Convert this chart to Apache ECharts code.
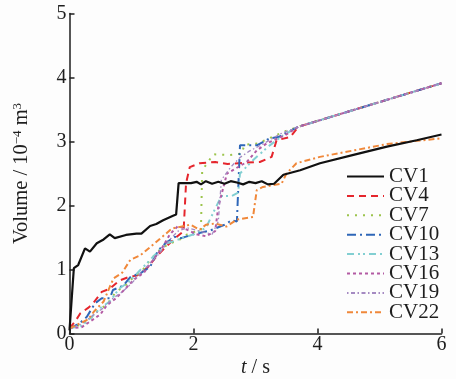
<!DOCTYPE html>
<html lang="en">
<head>
  <meta charset="UTF-8">
  <title>Volume vs t</title>
  <script src="https://cdn.jsdelivr.net/npm/echarts@6/dist/echarts.min.js"></script>
  <style>
    html, body { margin: 0; padding: 0; background: #fdfdfd; }
    #container { width: 456px; height: 379px; }
  </style>
</head>
<body>
  <div id="container"></div>
  <script>
    // axis ticks
    const xTicks = [0, 2, 4, 6];
    const yTicks = [0, 1, 2, 3, 4, 5];

    // [t (s), volume (1e-4 m3)]
    const cv1 = [[0, 0.05], [0.07, 1.02], [0.14, 1.07], [0.25, 1.33], [0.33, 1.28], [0.44, 1.41], [0.55, 1.47],
      [0.65, 1.55], [0.73, 1.49], [0.91, 1.54], [1.08, 1.56], [1.16, 1.56], [1.3, 1.68], [1.4, 1.71], [1.51, 1.77],
      [1.67, 1.84], [1.72, 1.86], [1.76, 2.35], [1.96, 2.35], [2.05, 2.37], [2.12, 2.33], [2.2, 2.38], [2.3, 2.34],
      [2.4, 2.37], [2.5, 2.34], [2.6, 2.38], [2.7, 2.36], [2.8, 2.33], [2.9, 2.37], [3.0, 2.35], [3.1, 2.38],
      [3.2, 2.33], [3.3, 2.34], [3.45, 2.48], [3.72, 2.55], [4.04, 2.66], [4.58, 2.79], [5.12, 2.92], [5.6, 3.02],
      [6, 3.11]];
    const cv4 = [[0, 0.08], [0.1, 0.2], [0.17, 0.31], [0.3, 0.4], [0.38, 0.47], [0.52, 0.65], [0.65, 0.7],
      [0.81, 0.83], [0.95, 0.88], [1.1, 0.91], [1.27, 1.04], [1.4, 1.2], [1.55, 1.35], [1.73, 1.51], [1.84, 1.6],
      [1.88, 2.35], [1.94, 2.6], [2.1, 2.66], [2.35, 2.68], [2.55, 2.65], [2.86, 2.67], [3.07, 2.68], [3.26, 2.76],
      [3.34, 3.02], [3.56, 3.07], [3.69, 3.23], [6, 3.91]];
    const cv7 = [[0, 0.08], [0.15, 0.13], [0.3, 0.2], [0.45, 0.35], [0.6, 0.45], [0.75, 0.65], [0.9, 0.75],
      [1.0, 0.85], [1.15, 0.95], [1.3, 1.15], [1.45, 1.3], [1.6, 1.4], [1.75, 1.45], [1.9, 1.55], [2.05, 1.6],
      [2.12, 1.62], [2.14, 2.55], [2.32, 2.8], [2.59, 2.79], [2.78, 2.81], [2.82, 2.95], [3.04, 2.97], [3.45, 3.15],
      [3.69, 3.23], [6, 3.91]];
    const cv10 = [[0, 0.08], [0.15, 0.15], [0.28, 0.26], [0.41, 0.47], [0.52, 0.55], [0.65, 0.55], [0.7, 0.68],
      [0.87, 0.75], [0.98, 0.88], [1.14, 0.94], [1.3, 1.04], [1.43, 1.3], [1.57, 1.43], [1.7, 1.51], [1.8, 1.49],
      [2.0, 1.55], [2.27, 1.61], [2.5, 1.7], [2.62, 1.77], [2.7, 1.75], [2.75, 2.94], [3.02, 2.94], [3.23, 3.05],
      [3.37, 3.07], [3.53, 3.15], [3.69, 3.23], [6, 3.91]];
    const cv13 = [[0, 0.08], [0.2, 0.12], [0.35, 0.25], [0.5, 0.4], [0.65, 0.5], [0.8, 0.7], [0.95, 0.8],
      [1.1, 0.95], [1.25, 1.1], [1.4, 1.25], [1.55, 1.4], [1.7, 1.45], [1.85, 1.5], [2.0, 1.55], [2.2, 1.65],
      [2.35, 1.95], [2.45, 2.15], [2.62, 2.15], [2.72, 2.2], [2.75, 2.5], [2.95, 2.7], [3.23, 2.94], [3.45, 3.1],
      [3.69, 3.23], [6, 3.91]];
    const cv16 = [[0, 0.08], [0.2, 0.1], [0.35, 0.2], [0.5, 0.3], [0.6, 0.44], [0.75, 0.55], [0.9, 0.7],
      [1.05, 0.85], [1.2, 0.95], [1.35, 1.15], [1.5, 1.35], [1.62, 1.55], [1.75, 1.68], [1.9, 1.62], [2.05, 1.55],
      [2.2, 1.52], [2.35, 1.6], [2.4, 1.98], [2.54, 2.5], [2.86, 2.68], [3.02, 2.86], [3.18, 2.97], [3.48, 3.1],
      [3.69, 3.23], [6, 3.91]];
    const cv19 = [[0, 0.08], [0.2, 0.15], [0.4, 0.3], [0.55, 0.4], [0.7, 0.55], [0.85, 0.65], [1.0, 0.78],
      [1.15, 0.95], [1.3, 1.1], [1.45, 1.25], [1.6, 1.45], [1.75, 1.6], [1.9, 1.65], [2.1, 1.6], [2.3, 1.55],
      [2.4, 1.75], [2.45, 2.4], [2.6, 2.6], [2.75, 2.75], [2.9, 2.85], [3.1, 2.95], [3.4, 3.12], [3.69, 3.23],
      [6, 3.91]];
    const cv22 = [[0, 0.08], [0.15, 0.15], [0.3, 0.22], [0.4, 0.35], [0.55, 0.5], [0.65, 0.73], [0.71, 0.86],
      [0.85, 0.95], [0.98, 1.15], [1.14, 1.22], [1.3, 1.35], [1.46, 1.48], [1.65, 1.64], [1.8, 1.67], [1.95, 1.7],
      [2.1, 1.62], [2.2, 1.7], [2.35, 1.72], [2.53, 1.67], [2.7, 1.78], [2.96, 1.82], [3.02, 2.24], [3.12, 2.29],
      [3.42, 2.34], [3.5, 2.5], [3.66, 2.66], [4.04, 2.76], [4.58, 2.86], [5.12, 2.96], [5.6, 3.01], [6, 3.05]];

    const FONT = '"Liberation Serif", "DejaVu Serif", serif';
    const INK = '#1e1e1e';

    // name, data, colour, dash pattern, width
    const lines = [
      ['CV1', cv1, '#111111', 'solid', 2.2],
      ['CV4', cv4, '#e5262d', [7, 5], 2],
      ['CV7', cv7, '#9cc44c', [2, 6], 2],
      ['CV10', cv10, '#2f67b8', [9, 4, 2, 4], 2],
      ['CV13', cv13, '#82cfd2', [7, 4, 2, 3, 2, 4], 2],
      ['CV16', cv16, '#b35aa3', [3, 3], 2],
      ['CV19', cv19, '#a58ac2', [1.5, 2.5, 4, 2.5], 1.3],
      ['CV22', cv22, '#f0883a', [6, 3, 2, 3], 2],
    ];

    const chart = echarts.init(document.getElementById('container'), null, { renderer: 'canvas' });

    chart.setOption({
      animation: false,
      backgroundColor: '#fdfdfd',
      // fixed plot box; v6 would otherwise shrink it to fit the labels
      grid: { left: 69.5, right: 14.5, top: 13.5, bottom: 45.5, outerBoundsMode: 'none' },
      legend: {
        orient: 'vertical',
        left: 346,
        top: 166,
        padding: 0,
        itemGap: -1.6,
        itemWidth: 37,
        itemHeight: 14,
        itemStyle: { opacity: 0 }, // hide the marker, keep only the dashed line
        textStyle: { fontFamily: FONT, fontSize: 21, color: INK, lineHeight: 19 },
        data: lines.map(l => l[0]),
      },
      xAxis: {
        type: 'value',
        min: xTicks[0],
        max: xTicks[xTicks.length - 1],
        interval: 2,
        name: '{i|t} / s',
        nameLocation: 'middle',
        nameGap: 24,
        nameMoveOverlap: false,
        nameTextStyle: {
          fontFamily: FONT, fontSize: 20, color: INK,
          rich: { i: { fontFamily: FONT, fontSize: 20, fontStyle: 'italic', color: INK } },
        },
        axisLine: { lineStyle: { color: INK, width: 1.5 } },
        axisTick: { inside: true, length: 5, lineStyle: { color: INK, width: 1.5 } },
        axisLabel: { fontFamily: FONT, fontSize: 20, color: INK, margin: 1 },
        splitLine: { show: false },
      },
      yAxis: {
        type: 'value',
        min: yTicks[0],
        max: yTicks[yTicks.length - 1],
        interval: 1,
        name: 'Volume / 10{s|−4} m{s|3}',
        nameLocation: 'middle',
        nameGap: 37,
        nameMoveOverlap: false,
        nameTextStyle: {
          fontFamily: FONT, fontSize: 20.5, color: INK,
          rich: { s: { fontFamily: FONT, fontSize: 13, color: INK, verticalAlign: 'top', padding: [0, 0, 8, 0] } },
        },
        axisLine: { show: true, lineStyle: { color: INK, width: 1.5 } },
        axisTick: { show: true, inside: true, length: 5, lineStyle: { color: INK, width: 1.5 } },
        axisLabel: { fontFamily: FONT, fontSize: 20, color: INK, margin: 3 },
        splitLine: { show: false },
      },
      series: lines.map(([name, data, color, type, width]) => ({
        name,
        type: 'line',
        data,
        symbol: 'none',
        color,
        lineStyle: { color, type, width },
        z: name === 'CV1' ? 3 : 2,
      })),
    });
  </script>
</body>
</html>
